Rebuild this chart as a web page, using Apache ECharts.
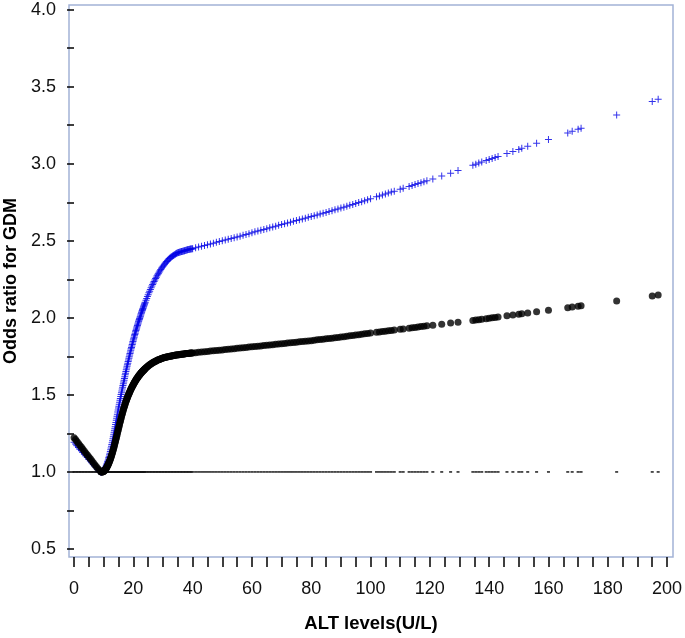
<!DOCTYPE html>
<html>
<head>
<meta charset="utf-8">
<script src="https://cdn.jsdelivr.net/npm/echarts@6/dist/echarts.min.js"></script>
<style>html,body{margin:0;padding:0;background:#fff}#c{width:685px;height:638px}</style>
</head>
<body>
<div id="c"></div>
<script>
// Observed ALT values (U/L)
var altValues = [
0,0.5,1,1.5,2,2.5,3,3.5,4,4.5,5,5.5,6,6.5,7,7.5,8,8.5,9,
9.25,9.5,9.75,10,10.25,10.5,10.75,11,11.25,11.5,11.75,12,12.25,12.5,12.75,13,13.25,13.5,13.75,14,
14.25,14.5,14.75,15,15.25,15.5,15.75,16,16.25,16.5,16.75,17,17.25,17.5,17.75,18,18.25,18.5,18.75,19,
19.25,19.5,19.75,20,20.25,20.5,20.75,21,21.25,21.5,21.75,22,22.25,22.5,22.75,23,23.25,23.5,23.75,24,
24.5,25,25.5,26,26.5,27,27.5,28,28.5,29,29.5,30,30.5,31,31.5,32,32.5,33,33.5,34,34.5,35,35.5,36,
36.5,37,37.5,38,38.5,39,39.5,40,
41,42,43,44,45,46,47,48,49,50,51,52,53,54,55,56,57,58,59,60,
61,62,63,64,65,66,67,68,69,70,71,72,73,74,75,76,77,78,79,80,81,82,83,84,85,86,87,88,89,90,
91,92,93,94,95,96,97,98,99,100,102,103,104,105,106,107,108,110,111,113,114,115,116,117,118,119,
121,124,127,129.5,134.5,135.5,136.5,137.5,139,140,141,142,143,146,148,150,151,153,156,160,
166.5,168,170,171,183,195,197
];
// Odds ratio, model 1 (black dots)
var orBlack = [
1.222,1.210,1.197,1.185,1.172,1.160,1.147,1.135,1.122,1.110,1.097,1.085,1.072,1.060,1.047,1.035,1.023,1.012,1.003,
1.000,1.000,1.002,1.005,1.009,1.014,1.021,1.029,1.038,1.048,1.059,1.071,1.084,1.098,1.113,1.129,1.146,1.164,1.183,1.202,
1.222,1.242,1.262,1.282,1.302,1.322,1.341,1.360,1.378,1.395,1.412,1.428,1.443,1.457,1.471,1.484,1.496,1.508,1.519,1.530,
1.540,1.550,1.559,1.568,1.577,1.585,1.593,1.601,1.608,1.615,1.622,1.628,1.634,1.640,1.646,1.651,1.656,1.661,1.666,1.671,
1.680,1.688,1.695,1.702,1.708,1.714,1.719,1.724,1.728,1.732,1.736,1.739,1.742,1.745,1.747,1.749,1.751,1.753,1.755,1.757,1.758,1.760,1.761,1.763,
1.764,1.765,1.767,1.768,1.769,1.770,1.771,1.772,
1.774,1.776,1.778,1.780,1.782,1.784,1.786,1.788,1.790,1.792,1.794,1.796,1.798,1.800,1.802,1.804,1.806,1.808,1.810,1.812,
1.814,1.816,1.818,1.820,1.822,1.824,1.826,1.828,1.830,1.832,1.834,1.836,1.838,1.840,1.842,1.844,1.846,1.848,1.850,1.852,1.854,1.857,1.859,1.861,1.864,1.866,1.868,1.871,1.873,1.876,
1.878,1.881,1.883,1.886,1.888,1.891,1.893,1.896,1.898,1.901,1.906,1.908,1.911,1.913,1.916,1.918,1.921,1.926,1.928,1.933,1.935,1.938,1.940,1.943,1.945,1.948,
1.952,1.959,1.966,1.972,1.983,1.986,1.988,1.991,1.994,1.997,2.000,2.002,2.005,2.013,2.018,2.023,2.026,2.031,2.039,2.049,
2.066,2.070,2.075,2.078,2.110,2.142,2.148
];
// Odds ratio, model 2 (blue plus)
var orBlue = [
1.192,1.181,1.170,1.159,1.148,1.137,1.126,1.115,1.104,1.093,1.082,1.071,1.060,1.049,1.038,1.027,1.016,1.006,1.000,
1.001,1.003,1.006,1.010,1.016,1.024,1.034,1.046,1.060,1.076,1.093,1.112,1.133,1.155,1.178,1.202,1.228,1.254,1.281,1.308,
1.335,1.362,1.389,1.415,1.440,1.465,1.490,1.514,1.538,1.561,1.584,1.607,1.630,1.652,1.674,1.696,1.717,1.738,1.759,1.779,
1.799,1.818,1.837,1.856,1.874,1.892,1.909,1.926,1.942,1.958,1.974,1.989,2.004,2.019,2.033,2.047,2.061,2.075,2.088,2.101,
2.126,2.150,2.173,2.195,2.216,2.236,2.255,2.273,2.290,2.306,2.321,2.335,2.348,2.360,2.371,2.381,2.390,2.398,2.405,2.411,2.417,2.422,2.425,2.428,
2.431,2.434,2.437,2.440,2.443,2.445,2.447,2.449,
2.454,2.459,2.464,2.469,2.474,2.479,2.484,2.490,2.495,2.500,2.505,2.510,2.515,2.520,2.525,2.530,2.536,2.541,2.546,2.552,
2.558,2.563,2.568,2.573,2.578,2.584,2.589,2.595,2.600,2.605,2.611,2.616,2.621,2.627,2.632,2.637,2.642,2.647,2.652,2.657,2.663,2.668,2.673,2.679,2.684,2.690,2.695,2.701,2.706,2.712,
2.718,2.724,2.730,2.736,2.742,2.748,2.754,2.760,2.766,2.772,2.785,2.791,2.797,2.804,2.810,2.816,2.822,2.835,2.841,2.853,2.859,2.865,2.871,2.877,2.883,2.889,
2.901,2.920,2.939,2.956,2.990,2.997,3.004,3.011,3.021,3.028,3.034,3.041,3.047,3.067,3.080,3.093,3.100,3.113,3.133,3.158,
3.200,3.210,3.224,3.231,3.316,3.403,3.418
];
// Additional observed ALT values in the dense (steep) range
var altDense = [
9.125,9.375,9.625,9.875,10.125,10.375,10.625,10.875,11.125,11.375,11.625,11.875,12.125,12.375,12.625,12.875,
13.125,13.375,13.625,13.875,14.125,14.375,14.625,14.875,15.125,15.375,15.625,15.875,16.125,16.375,16.625,16.875,
17.125,17.375,17.625,17.875,18.125,18.375,18.625,18.875,19.125,19.375,19.625,19.875,20.125,20.375,20.625,20.875,
21.125,21.375,21.625,21.875,22.125,22.375,22.625,22.875,23.125,23.375,23.625,23.875,
24.25,24.75,25.25,25.75,26.25,26.75,27.25,27.75,28.25,28.75,29.25,29.75,30.25,30.75,31.25,31.75,
32.25,32.75,33.25,33.75,34.25,34.75,35.25,35.75,36.25,36.75,37.25,37.75,38.25,38.75,39.25,39.75
];
var orBlackDense = [
1.001,1.000,1.001,1.003,1.007,1.011,1.017,1.025,1.033,1.043,1.053,1.065,1.077,1.091,1.105,1.121,
1.137,1.155,1.173,1.192,1.212,1.232,1.252,1.272,1.292,1.312,1.331,1.350,1.369,1.386,1.403,1.420,
1.435,1.450,1.464,1.477,1.490,1.502,1.513,1.524,1.535,1.545,1.554,1.563,1.572,1.581,1.589,1.597,
1.604,1.611,1.618,1.625,1.631,1.637,1.643,1.648,1.653,1.658,1.663,1.668,
1.676,1.684,1.692,1.699,1.705,1.711,1.717,1.722,1.726,1.730,1.734,1.738,1.741,1.744,1.746,1.748,
1.750,1.752,1.754,1.756,1.758,1.759,1.761,1.762,1.764,1.765,1.766,1.768,1.769,1.770,1.771,1.772
];
var orBlueDense = [
1.000,1.002,1.004,1.008,1.013,1.020,1.029,1.040,1.053,1.068,1.084,1.102,1.122,1.144,1.166,1.190,
1.215,1.241,1.267,1.294,1.321,1.348,1.375,1.402,1.427,1.452,1.477,1.502,1.526,1.549,1.572,1.595,
1.618,1.641,1.663,1.685,1.706,1.727,1.748,1.769,1.789,1.808,1.827,1.846,1.865,1.883,1.900,1.917,
1.934,1.950,1.966,1.981,1.996,2.011,2.026,2.040,2.054,2.068,2.081,2.094,
2.114,2.138,2.162,2.184,2.206,2.226,2.246,2.264,2.282,2.298,2.314,2.328,2.342,2.354,2.366,2.376,
2.386,2.394,2.402,2.408,2.414,2.420,2.424,2.427,2.430,2.433,2.436,2.439,2.442,2.444,2.446,2.448
];
// Reference odds ratio (1.0)
var orReference = 1.0;
var xTickValues = [0,5,10,15,20,25,30,35,40,45,50,55,60,65,70,75,80,85,90,95,100,105,110,115,120,125,130,135,140,145,150,155,160,165,170,175,180,185,190,195,200];
var xLabelValues = [0,20,40,60,80,100,120,140,160,180,200];
var yTickValues = [0.5,0.75,1.0,1.25,1.5,1.75,2.0,2.25,2.5,2.75,3.0,3.25,3.5,3.75,4.0];
var yLabelValues = [0.5,1.0,1.5,2.0,2.5,3.0,3.5,4.0];

function pairs(xs, ys) {
  var out = [];
  for (var i = 0; i < xs.length; i++) out.push([xs[i], Array.isArray(ys) ? ys[i] : ys]);
  return out;
}

var chart = echarts.init(document.getElementById('c'), null, {renderer: 'canvas'});
var FONT = '"Liberation Sans", Arial, sans-serif';
var PLUS = 'path://M3,0H4V3H7V4H4V7H3V4H0V3H3Z';
chart.setOption({
  animation: false,
  backgroundColor: '#ffffff',
  grid: {
    left: 69, right: 12, top: 5, bottom: 81,
    containLabel: false, outerBoundsMode: 'none',
    show: true, borderColor: '#a3b3d6', borderWidth: 1.5, backgroundColor: 'transparent'
  },
  xAxis: {
    type: 'value', min: -1.7, max: 202,
    name: 'ALT levels(U/L)', nameLocation: 'middle', nameGap: 57,
    nameTextStyle: {fontFamily: FONT, fontSize: 18.5, fontWeight: 'bold', color: '#000'},
    axisLine: {show: false},
    splitLine: {show: false},
    axisTick: {show: true, inside: false, length: 10, customValues: xTickValues, lineStyle: {color: '#000', width: 1.5}},
    axisLabel: {customValues: xLabelValues, fontFamily: FONT, fontSize: 18, color: '#111', margin: 23,
      hideOverlap: false, formatter: function (v) { return String(v); }}
  },
  yAxis: {
    type: 'value', min: 0.448, max: 4.03,
    name: 'Odds ratio for GDM', nameLocation: 'middle', nameGap: 44,
    nameTextStyle: {fontFamily: FONT, fontSize: 18, fontWeight: 'bold', color: '#000'},
    axisLine: {show: false},
    splitLine: {show: false},
    axisTick: {show: true, inside: false, length: 7, customValues: yTickValues, lineStyle: {color: '#000', width: 1.5}},
    axisLabel: {customValues: yLabelValues, fontFamily: FONT, fontSize: 18, color: '#111', margin: 13,
      hideOverlap: false, formatter: function (v) { return Number(v).toFixed(1); }}
  },
  series: [
    {
      type: 'scatter', name: 'Reference', data: pairs(altValues, orReference),
      symbol: 'rect', symbolSize: [3, 1.8], itemStyle: {color: '#111'}, z: 1, silent: true
    },
    {
      type: 'scatter', name: 'Model 2', data: pairs(altValues, orBlue),
      symbol: PLUS, symbolSize: 7, symbolKeepAspect: true,
      itemStyle: {color: '#0000e6'}, z: 2, silent: true
    },
    {
      type: 'scatter', name: 'Model 2 dense', data: pairs(altDense, orBlueDense),
      symbol: PLUS, symbolSize: 7, symbolKeepAspect: true,
      itemStyle: {color: '#0000e6'}, z: 2, silent: true
    },
    {
      type: 'scatter', name: 'Model 1', data: pairs(altValues, orBlack),
      symbol: 'circle', symbolSize: 7, itemStyle: {color: '#000'}, z: 3, silent: true
    },
    {
      type: 'scatter', name: 'Model 1 dense', data: pairs(altDense, orBlackDense),
      symbol: 'circle', symbolSize: 7, itemStyle: {color: '#000'}, z: 3, silent: true
    }
  ]
});
</script>
</body>
</html>
